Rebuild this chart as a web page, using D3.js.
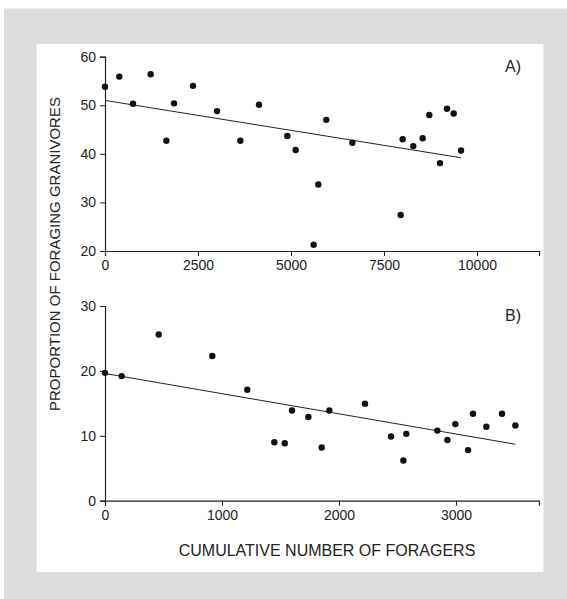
<!DOCTYPE html>
<html>
<head>
<meta charset="utf-8">
<script src="https://cdn.jsdelivr.net/npm/d3@7"></script>
<style>
  body { margin: 0; background: #fff; }
  svg text { font-family: "Liberation Sans", Arial, sans-serif; fill: #222; }
</style>
</head>
<body>
<div id="canvas"></div>
<script>
"use strict"

// panel A: proportion vs cumulative foragers (0..10000)
const aX = [0, 385, 753, 1228, 1649, 1855, 2366, 3011, 3638, 4140,
            4901, 5126, 5610, 5735, 5950, 6649, 7948, 8002, 8288, 8540,
            8718, 9005, 9194, 9373, 9570];
const aY = [53.8, 55.9, 50.3, 56.4, 42.7, 50.4, 54.0, 48.8, 42.7, 50.1,
            43.7, 40.8, 21.3, 33.7, 47.0, 42.3, 27.4, 43.0, 41.6, 43.2,
            48.0, 38.1, 49.3, 48.3, 40.7];
const aLineX = [0, 9570];
const aLineY = [51.0, 39.2];
const aXTicks = [0, 2500, 5000, 7500, 10000];
const aYTicks = [20, 30, 40, 50, 60];

// panel B: proportion vs cumulative foragers (0..3500)
const bX = [0, 142, 459, 917, 1216, 1447, 1536, 1598, 1738, 1852,
            1917, 2222, 2444, 2550, 2575, 2840, 2926, 2994, 3103, 3145,
            3259, 3393, 3507];
const bY = [19.7, 19.2, 25.6, 22.3, 17.1, 9.0, 8.85, 13.9, 12.9, 8.2,
            13.9, 14.95, 9.9, 6.2, 10.3, 10.8, 9.35, 11.8, 7.8, 13.4,
            11.4, 13.4, 11.6];
const bLineX = [0, 3507];
const bLineY = [19.6, 8.7];
const bXTicks = [0, 1000, 2000, 3000];
const bYTicks = [0, 10, 20, 30];

const W = 567, H = 599;

let drawing = d3.select("#canvas")
    .append("svg")
    .attr("width", W)
    .attr("height", H);

// grey frame and white card
drawing.append("rect")
    .attr("x", 4).attr("y", 8.5)
    .attr("width", W - 4).attr("height", H - 8.5)
    .attr("fill", "#dcdddf");
drawing.append("rect")
    .attr("x", 36.5).attr("y", 44)
    .attr("width", 507).attr("height", 528)
    .attr("fill", "#fff");

function styleAxis(ax) {
    ax.select(".domain").attr("stroke", "#222").attr("stroke-width", 1.2);
    ax.selectAll("line").attr("stroke", "#222");
    ax.selectAll("text").attr("font-size", 14).attr("fill", "#222")
        .attr("font-family", "Liberation Sans, Arial, sans-serif");
}

function drawPanel(g, xs, ys, lx, ly, xDom, yDom, top, bottom, xTicks, yTicks, tag) {
    let x = d3.scaleLinear().domain(xDom).range([105, 539]);
    let y = d3.scaleLinear().domain(yDom).range([bottom, top]);

    g.append("g")
        .attr("transform", `translate(0,${bottom})`)
        .call(d3.axisBottom(x).tickValues(xTicks).tickFormat(d3.format("d"))
            .tickSizeOuter(0).tickSize(5).tickPadding(4))
        .call(styleAxis);

    g.append("g")
        .attr("transform", "translate(105,0)")
        .call(d3.axisLeft(y).tickValues(yTicks).tickFormat(d3.format("d"))
            .tickSizeOuter(0).tickSize(5).tickPadding(4))
        .call(styleAxis);

    g.append("line")
        .attr("x1", x(lx[0])).attr("y1", y(ly[0]))
        .attr("x2", x(lx[1])).attr("y2", y(ly[1]))
        .attr("stroke", "#222")
        .attr("stroke-width", 1);

    g.selectAll("circle")
        .data(xs.map((v, i) => [v, ys[i]]))
        .enter()
        .append("circle")
        .attr("cx", d => x(d[0]))
        .attr("cy", d => y(d[1]))
        .attr("r", 3.2)
        .attr("fill", "#111");

    g.append("text")
        .attr("x", 505).attr("y", top + 15)
        .attr("font-size", 16)
        .text(tag);
}

drawPanel(drawing.append("g"), aX, aY, aLineX, aLineY, [0, 11667], [20, 60], 56.7, 251, aXTicks, aYTicks, "A)");
drawPanel(drawing.append("g"), bX, bY, bLineX, bLineY, [0, 3709], [0, 30], 306, 500.7, bXTicks, bYTicks, "B)");

// shared axis titles
drawing.append("text")
    .attr("transform", "translate(60,254) rotate(-90)")
    .attr("text-anchor", "middle")
    .attr("font-size", 15)
    .text("PROPORTION OF FORAGING GRANIVORES");

drawing.append("text")
    .attr("x", 327).attr("y", 556)
    .attr("text-anchor", "middle")
    .attr("font-size", 16)
    .text("CUMULATIVE NUMBER OF FORAGERS");
</script>
</body>
</html>
